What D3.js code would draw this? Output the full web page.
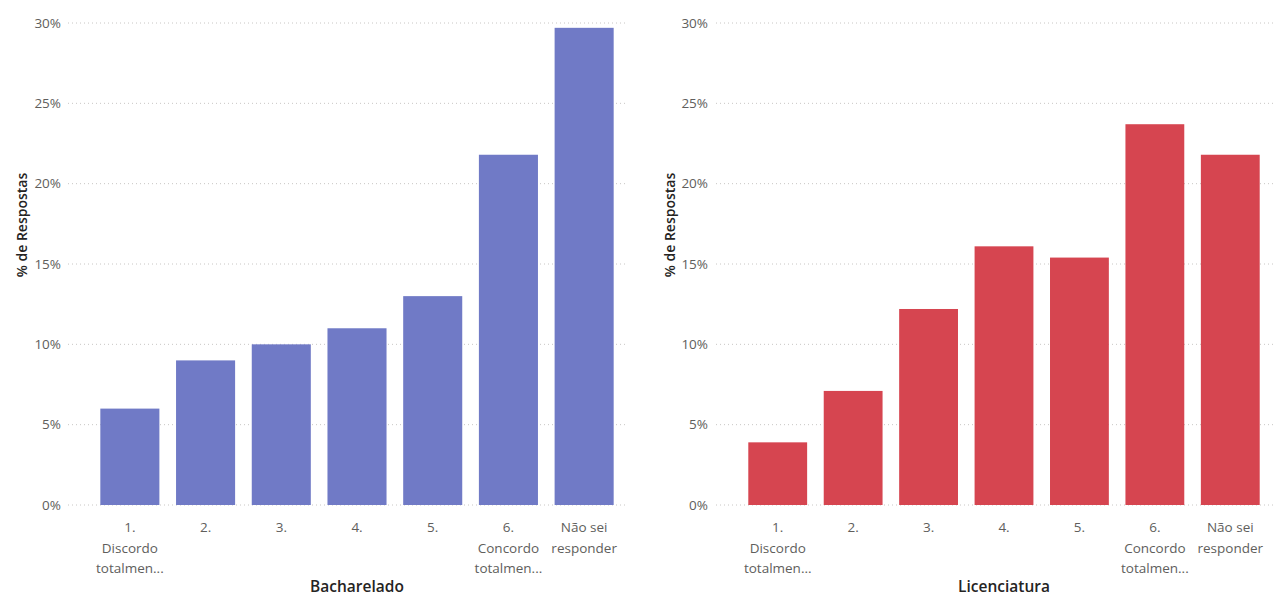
<!DOCTYPE html>
<html><head><meta charset="utf-8">
<script src="https://cdn.jsdelivr.net/npm/d3@7"></script>
<style>
body{margin:0;background:#fff;}
text{font-family:"Segoe UI","Open Sans","Noto Sans",sans-serif;}
</style></head>
<body><svg id="c" width="1276" height="596"></svg>
<script>
const categories = ["1. Discordo totalmen...", "2.", "3.", "4.", "5.", "6. Concordo totalmen...", "Não sei responder"];
const tickLines = [["1.","Discordo","totalmen..."],["2."],["3."],["4."],["5."],["6.","Concordo","totalmen..."],["Não sei","responder"]];
const bacharelado = [6.0, 9.0, 10.0, 11.0, 13.0, 21.8, 29.7];
const licenciatura = [3.9, 7.1, 12.2, 16.1, 15.4, 23.7, 21.8];
const yTicks = [0, 5, 10, 15, 20, 25, 30];

const svg = d3.select("#c");
const panels = [
  {title:"Bacharelado", values:bacharelado, color:"#707AC6", gx0:68, gx1:626, bx0:92, bx1:622, ylabX:27, tickX:61},
  {title:"Licenciatura", values:licenciatura, color:"#D64550", gx0:716, gx1:1276, bx0:740, bx1:1268, ylabX:675, tickX:708}
];
const y = d3.scaleLinear().domain([0,30]).range([505,23]);

panels.forEach(p=>{
  const g = svg.append("g");
  const x = d3.scaleBand().domain(categories).range([p.bx0,p.bx1]).paddingInner(0.22).paddingOuter(0.11);
  g.selectAll("line.grid").data(yTicks).join("line")
    .attr("x1",p.gx0).attr("x2",p.gx1)
    .attr("y1",d=>y(d)).attr("y2",d=>y(d))
    .attr("stroke","#C8C6C4").attr("stroke-width",1).attr("stroke-dasharray","1,3");
  const ya = d3.axisLeft(y).tickValues(yTicks).tickFormat(d=>d+"%").tickSize(0).tickPadding(0);
  const yg = g.append("g").attr("transform",`translate(${p.tickX},0)`).call(ya);
  yg.select(".domain").remove();
  yg.selectAll("text").attr("fill","#605E5C").attr("font-size",13.5);
  g.selectAll("rect").data(p.values).join("rect")
    .attr("x",(d,i)=>x(categories[i])).attr("width",x.bandwidth())
    .attr("y",d=>y(d)).attr("height",d=>y(0)-y(d)).attr("fill",p.color);
  const xa = d3.axisBottom(x).tickSize(0).tickPadding(0).tickFormat("");
  const xg = g.append("g").attr("transform","translate(0,505)").call(xa);
  xg.select(".domain").remove();
  xg.selectAll(".tick").each(function(d,i){
    const t = d3.select(this).append("text").attr("fill","#605E5C").attr("font-size",13.5).attr("text-anchor","middle");
    tickLines[i].forEach((s,k)=>t.append("tspan").attr("x",0).attr("y",27+k*20.5).text(s));
  });
  g.append("text").attr("x",(p.bx0+p.bx1)/2).attr("y",592).attr("text-anchor","middle")
    .attr("font-size",15.5).attr("font-weight",600).attr("fill","#252423").text(p.title);
  g.append("text").attr("transform",`translate(${p.ylabX},225) rotate(-90)`).attr("text-anchor","middle")
    .attr("font-size",14).attr("font-weight",600).attr("fill","#252423").text("% de Respostas");
});
</script></body></html>
